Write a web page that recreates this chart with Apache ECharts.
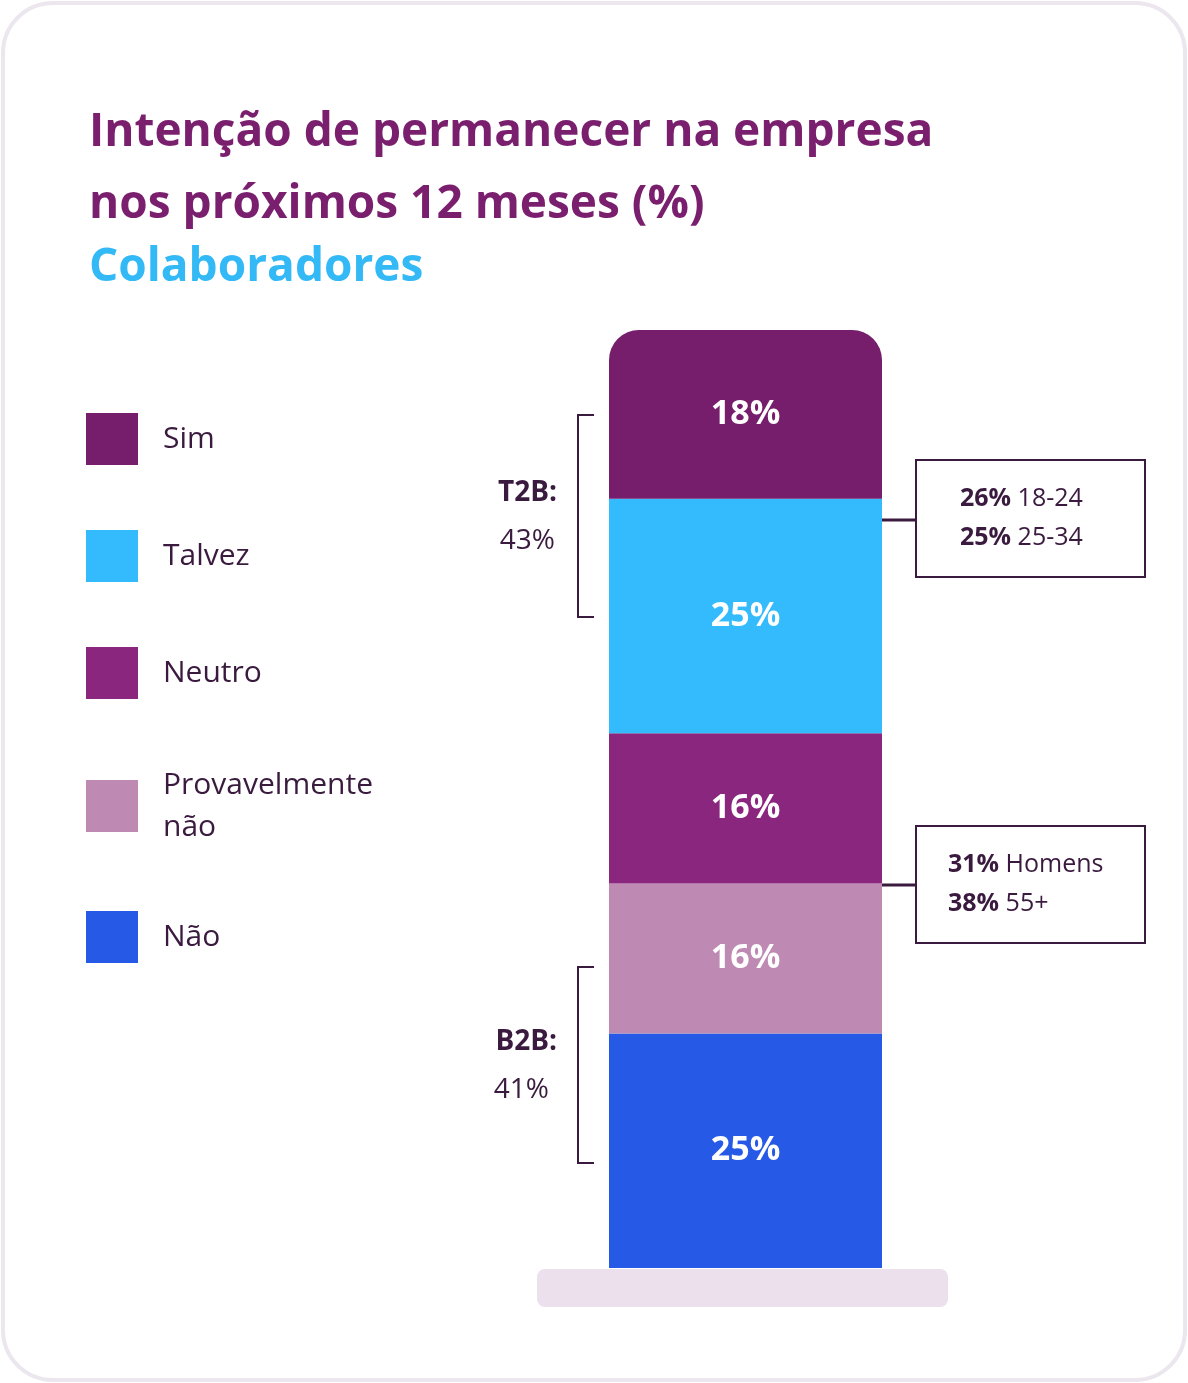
<!DOCTYPE html>
<html>
<head>
<meta charset="utf-8">
<script src="https://cdn.jsdelivr.net/npm/echarts@6/dist/echarts.min.js"></script>
<style>
html, body { margin: 0; padding: 0; background: #fff; }
#chart { width: 1188px; height: 1383px; }
</style>
</head>
<body>
<div id="chart"></div>
<script>
// categories from bottom to top of the stack
var categories = ['Não', 'Provavelmente não', 'Neutro', 'Talvez', 'Sim'];
var values = [25, 16, 16, 25, 18];
var colors = ['#2659e6', '#be8ab4', '#8b267f', '#33bbfd', '#761d6b'];
// legend order (top to bottom)
var legendLabels = ['Sim', 'Talvez', 'Neutro', 'Provavelmente\nnão', 'Não'];
var legendColors = ['#761d6b', '#33bbfd', '#8b267f', '#be8ab4', '#2659e6'];
var legendY = [413, 530, 647, 780, 911];

var font = '"Open Sans", "Noto Sans", sans-serif';
var dark = '#3a1a3e';
var myChart = echarts.init(document.getElementById('chart'));

var series = categories.map(function (name, i) {
	var data = [values[i]];
	return {
		name: name,
		type: 'bar',
		stack: 'total',
		barWidth: '100%',
		data: data,
		itemStyle: {
			color: colors[i],
			borderRadius: i === categories.length - 1 ? [30, 30, 0, 0] : 0
		},
		label: {
			show: true,
			position: 'inside',
			formatter: '{c}%',
			color: '#fff',
			fontFamily: font,
			fontWeight: 'bold',
			fontSize: 34
		}
	};
});

var graphic = [
	{ type: 'rect', shape: { x: 3, y: 3, width: 1182, height: 1377, r: 50 },
	  style: { fill: '#fff', stroke: '#ece6ee', lineWidth: 4 }, z: -10 },
	{ type: 'rect', shape: { x: 537, y: 1269, width: 411, height: 38, r: 8 },
	  style: { fill: '#ebe0eb' } },
	// brackets
	{ type: 'polyline', shape: { points: [[594, 415], [578, 415], [578, 617], [594, 617]] },
	  style: { stroke: dark, lineWidth: 2, fill: null } },
	{ type: 'polyline', shape: { points: [[594, 967], [578, 967], [578, 1163], [594, 1163]] },
	  style: { stroke: dark, lineWidth: 2, fill: null } },
	{ type: 'text', x: 557, y: 493, style: { text: 'T2B:', fill: dark, font: 'bold 28px ' + font, align: 'right', verticalAlign: 'middle' } },
	{ type: 'text', x: 555, y: 541, style: { text: '43%', fill: dark, font: '28px ' + font, align: 'right', verticalAlign: 'middle' } },
	{ type: 'text', x: 557, y: 1042, style: { text: 'B2B:', fill: dark, font: 'bold 28px ' + font, align: 'right', verticalAlign: 'middle' } },
	{ type: 'text', x: 549, y: 1090, style: { text: '41%', fill: dark, font: '28px ' + font, align: 'right', verticalAlign: 'middle' } },
	// callout boxes
	{ type: 'line', shape: { x1: 882, y1: 520, x2: 916, y2: 520 }, style: { stroke: dark, lineWidth: 3 } },
	{ type: 'rect', shape: { x: 916, y: 460, width: 229, height: 117 }, style: { fill: '#fff', stroke: dark, lineWidth: 2 } },
	{ type: 'line', shape: { x1: 882, y1: 885, x2: 916, y2: 885 }, style: { stroke: dark, lineWidth: 3 } },
	{ type: 'rect', shape: { x: 916, y: 826, width: 229, height: 117 }, style: { fill: '#fff', stroke: dark, lineWidth: 2 } },
	{ type: 'text', x: 960, y: 518, style: {
		text: '{b|26%} 18-24\n{b|25%} 25-34', fill: dark, font: '25px ' + font, lineHeight: 39, verticalAlign: 'middle',
		rich: { b: { fontWeight: 'bold', fontSize: 25, fontFamily: font, fill: dark } } } },
	{ type: 'text', x: 948, y: 884, style: {
		text: '{b|31%} Homens\n{b|38%} 55+', fill: dark, font: '25px ' + font, lineHeight: 39, verticalAlign: 'middle',
		rich: { b: { fontWeight: 'bold', fontSize: 25, fontFamily: font, fill: dark } } } }
];

legendLabels.forEach(function (label, i) {
	graphic.push({ type: 'rect', shape: { x: 86, y: legendY[i], width: 52, height: 52 }, style: { fill: legendColors[i] } });
	graphic.push({ type: 'text', x: 163, y: legendY[i] + 26, style: {
		text: label, fill: dark, font: '30px ' + font, lineHeight: 42, verticalAlign: 'middle' } });
});

var option = {
	backgroundColor: '#fff',
	animation: false,
	title: [{
		text: 'Intenção de permanecer na empresa\nnos próximos 12 meses (%)',
		left: 84, top: 92,
		textStyle: { color: '#7a1f6e', fontFamily: font, fontWeight: 'bold', fontSize: 46, lineHeight: 72 }
	}, {
		text: 'Colaboradores',
		left: 84, top: 240,
		textStyle: { color: '#33b9f5', fontFamily: font, fontWeight: 'bold', fontSize: 46 }
	}],
	grid: { left: 609, width: 273, top: 330, height: 938 },
	xAxis: { type: 'category', data: ['Colaboradores'], show: false },
	yAxis: { type: 'value', min: 0, max: 100, show: false },
	graphic: graphic,
	series: series
};

myChart.setOption(option);
</script>
</body>
</html>
